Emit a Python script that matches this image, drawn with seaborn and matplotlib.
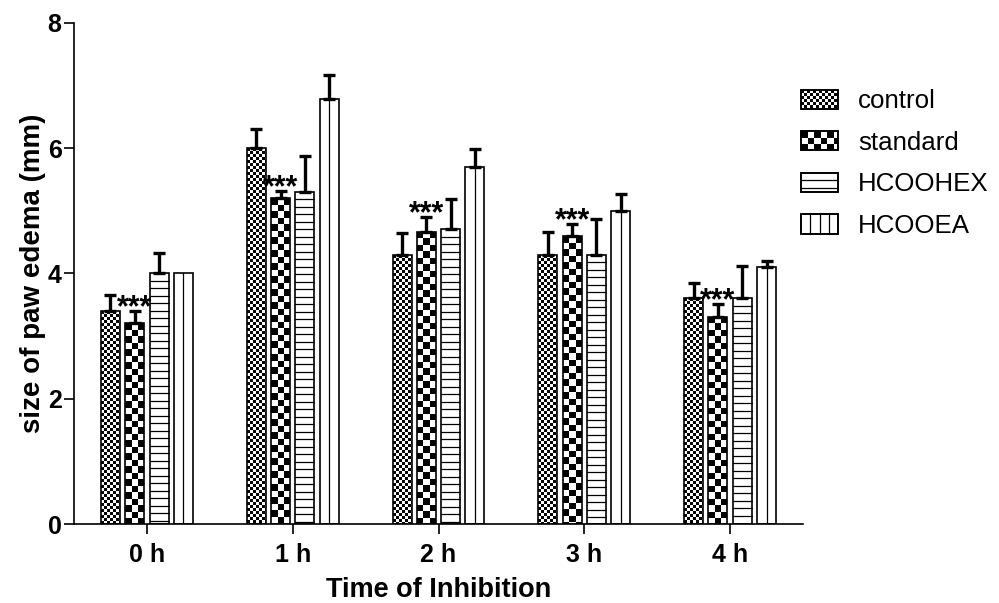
# paw edema bar chart (grouped bars, patterned fills, upper error bars)
import numpy as np
import matplotlib
matplotlib.use('Agg')
import matplotlib.pyplot as plt
import pandas as pd
import seaborn as sns
from matplotlib.patches import Rectangle
from matplotlib.lines import Line2D
from matplotlib.collections import PatchCollection
from matplotlib.transforms import IdentityTransform
from matplotlib.legend_handler import HandlerBase

###########################################################################################

# data
times = ['0 h', '1 h', '2 h', '3 h', '4 h']
groups = ['control', 'standard', 'HCOOHEX', 'HCOOEA']

control = [3.40, 6.00, 4.30, 4.30, 3.60]
control_err = [0.25, 0.31, 0.34, 0.36, 0.25]

standard = [3.20, 5.20, 4.66, 4.59, 3.31]
standard_err = [0.20, 0.12, 0.24, 0.20, 0.20]

hcoohex = [4.00, 5.30, 4.70, 4.30, 3.60]
hcoohex_err = [0.32, 0.57, 0.48, 0.57, 0.52]

hcooea = [4.00, 6.78, 5.69, 4.99, 4.10]
hcooea_err = [0.00, 0.38, 0.30, 0.28, 0.10]

# significance marks drawn over the standard bars
stars = ['***', '***', '***', '***', '***']

values = [control, standard, hcoohex, hcooea]
errors = [control_err, standard_err, hcoohex_err, hcooea_err]
patterns = ['fine', 'coarse', 'hlines', 'vlines']

# long-form table for seaborn
df = pd.DataFrame({'time': np.tile(times, len(groups)),
                   'group': np.repeat(groups, len(times)),
                   'value': np.concatenate(values)})

###########################################################################################

# pattern pieces (black only) for a box, unit = coordinate units per pixel
def pattern_pieces(kind, x0, y0, w, h, unit):
    rects = []
    lines = []
    if kind in ('fine', 'coarse'):
        cell = (3.0 if kind == 'fine' else 6.5) * unit
        nx = int(np.ceil(w / cell))
        ny = int(np.ceil(h / cell))
        for i in range(nx):
            for j in range(ny):
                if (i + j) % 2 == 0:
                    x = x0 + i * cell
                    y = y0 + h - (j + 1) * cell
                    cw = min(cell, x0 + w - x)
                    ch = cell
                    if y < y0:
                        ch = cell - (y0 - y)
                        y = y0
                    if cw > 0 and ch > 0:
                        rects.append(Rectangle((x, y), cw, ch))
    elif kind == 'hlines':
        step = 7.5 * unit
        y = y0 + h - step
        while y > y0 + 1.5 * unit:
            lines.append(([x0, x0 + w], [y, y]))
            y -= step
    elif kind == 'vlines':
        step = 9.5 * unit
        xc = x0 + w / 2
        k = 0
        while xc - k * step > x0 + 1.5 * unit:
            for x in {xc - k * step, xc + k * step}:
                lines.append(([x, x], [y0, y0 + h]))
            k += 1
    return rects, lines


# legend handler drawing the same pattern in the swatch
class PatternHandler(HandlerBase):
    def __init__(self, kind):
        super().__init__()
        self.kind = kind

    def create_artists(self, legend, orig_handle, xdescent, ydescent,
                       width, height, fontsize, trans):
        unit = 72 / legend.figure.dpi
        x0, y0 = -xdescent, -ydescent
        artists = [Rectangle((x0, y0), width, height, facecolor='white',
                             edgecolor='black', linewidth=1.2, transform=trans)]
        rects, lines = pattern_pieces(self.kind, x0, y0, width, height, unit)
        for r in rects:
            r.set_facecolor('black')
            r.set_linewidth(0)
            r.set_antialiased(False)
            r.set_transform(trans)
            artists.append(r)
        for xs, ys in lines:
            artists.append(Line2D(xs, ys, color='black', linewidth=0.9,
                                  transform=trans))
        artists.append(Rectangle((x0, y0), width, height, fill=False,
                                 edgecolor='black', linewidth=1.2, transform=trans))
        return artists

###########################################################################################

sns.set_style('ticks')
plt.rcParams['font.family'] = ['Liberation Sans', 'DejaVu Sans']
plt.rcParams['text.color'] = 'black'
plt.rcParams['axes.labelcolor'] = 'black'
plt.rcParams['xtick.color'] = 'black'
plt.rcParams['ytick.color'] = 'black'

fig = plt.figure(figsize=(9.99, 6.03), dpi=100)
ax = fig.add_axes([0.0741, 0.131, 0.7297, 0.8314])

# creating bars
sns.barplot(data=df,
            x='time',
            y='value',
            hue='group',
            order=times,
            hue_order=groups,
            errorbar=None,
            width=0.667,
            gap=0.22,
            palette=['white'] * 4,
            edgecolor='black',
            linewidth=1.2,
            legend=False,
            ax=ax)

ax.set_xlim(-0.5, 4.5)
ax.set_ylim(0, 8)
ax.set_yticks([0, 2, 4, 6, 8])

# bar containers (one per group), copied before error bars add more
bar_containers = list(ax.containers)

# patterns, error bars and stars
for gi, container in enumerate(bar_containers):
    rect_list = []
    for ti, bar in enumerate(container.patches):
        (px0, py0), (px1, py1) = ax.transData.transform(
            [(bar.get_x(), bar.get_y()), (bar.get_x() + bar.get_width(), bar.get_y() + bar.get_height())])
        rects, lines = pattern_pieces(patterns[gi], px0, py0, px1 - px0, py1 - py0, 1.0)
        rect_list += rects
        for xs, ys in lines:
            ax.add_line(Line2D(xs, ys, color='black', linewidth=0.9,
                               transform=IdentityTransform(), zorder=1.5))
        xc = bar.get_x() + bar.get_width() / 2
        top = bar.get_height()
        err = errors[gi][ti]
        if err > 0:
            ax.errorbar(xc, top, yerr=[[0], [err]], fmt='none', ecolor='black',
                        elinewidth=2.4, capsize=4.5, capthick=2.4, zorder=3)
        if gi == 1 and stars[ti]:
            ax.annotate(stars[ti], xy=(xc, top + err), xytext=(0, -3.7),
                        textcoords='offset points', ha='center', va='baseline',
                        fontsize=22, fontweight='bold', color='black', zorder=4)
    if rect_list:
        coll = PatchCollection(rect_list, facecolor='black', linewidth=0,
                               antialiased=False, transform=IdentityTransform(),
                               zorder=1.5)
        ax.add_collection(coll, autolim=False)

ax.set_xlim(-0.5, 4.5)
ax.set_ylim(0, 8)

# axes styling
sns.despine(ax=ax)
for side in ['left', 'bottom']:
    ax.spines[side].set_linewidth(1.2)
    ax.spines[side].set_color('black')
ax.tick_params(axis='both', direction='out', length=7, width=1.2, color='black',
               labelcolor='black')
ax.tick_params(axis='y', pad=2)
ax.tick_params(axis='x', pad=6.5)
for lab in ax.get_xticklabels() + ax.get_yticklabels():
    lab.set_fontsize(18)
    lab.set_fontweight('bold')

ax.set_xlabel('Time of Inhibition', fontsize=19.5, fontweight='bold', labelpad=7.5)
ax.set_ylabel('size of paw edema (mm)', fontsize=20, fontweight='bold', labelpad=1)

# legend
handles = [Rectangle((0, 0), 1, 1, label=g) for g in groups]
fig.legend(handles=handles,
           labels=groups,
           handler_map={h: PatternHandler(k) for h, k in zip(handles, patterns)},
           loc='upper left',
           bbox_to_anchor=(0.802, 0.852),
           frameon=False,
           fontsize=18.6,
           handlelength=1.43,
           handleheight=0.77,
           handletextpad=0.77,
           labelspacing=0.68,
           borderpad=0,
           borderaxespad=0)

plt.savefig('out.png', dpi=100)
